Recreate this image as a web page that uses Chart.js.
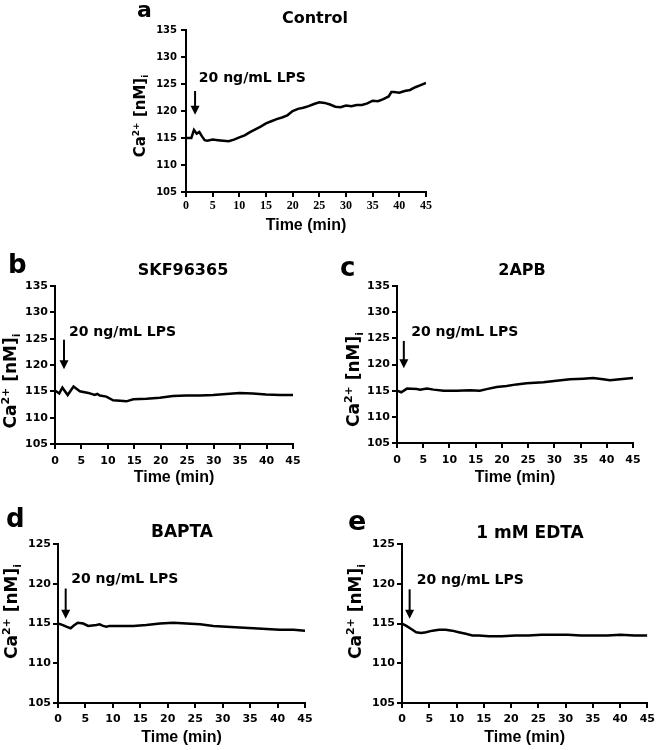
<!DOCTYPE html>
<html>
<head>
<meta charset="utf-8">
<script src="https://cdn.jsdelivr.net/npm/chart.js@4"></script>
<style>
  body { margin: 0; background: #fff; }
  #wrap { position: relative; width: 660px; height: 750px; overflow: hidden; }
  canvas { position: absolute; }
</style>
</head>
<body>
<div id="wrap">
  <canvas id="pa" width="360" height="250" style="left:100px;top:0px"></canvas>
  <canvas id="pb" width="330" height="250" style="left:0px;top:250px"></canvas>
  <canvas id="pc" width="330" height="250" style="left:330px;top:250px"></canvas>
  <canvas id="pd" width="330" height="250" style="left:0px;top:500px"></canvas>
  <canvas id="pe" width="330" height="250" style="left:330px;top:500px"></canvas>
</div>
<script>
// tick values
const xTicks = [0, 5, 10, 15, 20, 25, 30, 35, 40, 45];
const yTicksHigh = [105, 110, 115, 120, 125, 130, 135];
const yTicksLow = [105, 110, 115, 120, 125];

// a - Control
const controlTime = [0, 1, 1.5, 2, 2.5, 3, 3.5, 4, 5, 6, 7, 8, 9, 10, 11, 12, 13, 14, 15, 16, 17, 18, 19, 20, 21, 22, 23, 24, 25, 26, 27, 28, 29, 30, 31, 32, 33, 34, 35, 36, 37, 38, 38.5, 39, 40, 41, 42, 43, 44, 45];
const controlCa = [115.0, 115.0, 116.5, 115.8, 116.1, 115.3, 114.6, 114.5, 114.7, 114.6, 114.5, 114.4, 114.7, 115.1, 115.5, 116.1, 116.6, 117.1, 117.7, 118.1, 118.5, 118.8, 119.2, 120.0, 120.4, 120.6, 120.9, 121.3, 121.6, 121.5, 121.2, 120.8, 120.7, 121.0, 120.9, 121.1, 121.1, 121.4, 121.9, 121.8, 122.2, 122.7, 123.5, 123.5, 123.4, 123.7, 123.9, 124.4, 124.8, 125.2];

// b - SKF96365
const skfTime = [0, 0.2, 0.8, 1.4, 2.4, 3.5, 4.7, 6.3, 7.5, 8.0, 8.5, 9.7, 11.0, 12.3, 13.5, 14.8, 17.3, 19.8, 22.3, 24.8, 27.4, 29.9, 32.4, 34.9, 37.4, 39.9, 42.5, 45];
const skfCa = [115.0, 115.0, 114.6, 115.7, 114.3, 115.9, 115.0, 114.7, 114.3, 114.5, 114.2, 114.0, 113.3, 113.2, 113.1, 113.5, 113.6, 113.8, 114.1, 114.2, 114.2, 114.3, 114.5, 114.7, 114.6, 114.4, 114.3, 114.3];

// c - 2APB
const apbTime = [0, 0.8, 1.9, 3.8, 4.4, 5.7, 7.0, 8.9, 11.4, 13.9, 15.8, 17.1, 19.0, 20.9, 22.8, 24.7, 27.9, 30.4, 33.0, 35.5, 37.4, 39.3, 40.6, 42.5, 45];
const apbCa = [115.0, 114.7, 115.4, 115.3, 115.2, 115.4, 115.2, 115.0, 115.0, 115.1, 115.0, 115.3, 115.7, 115.9, 116.2, 116.4, 116.6, 116.9, 117.2, 117.3, 117.4, 117.2, 117.0, 117.2, 117.4];

// d - BAPTA
const baptaTime = [0, 0.9, 1.5, 2.3, 3.0, 3.6, 4.6, 5.5, 7.0, 7.6, 8.2, 8.8, 9.4, 10.3, 11.3, 13.7, 16.1, 18.6, 21.0, 23.4, 25.9, 28.3, 30.7, 33.1, 35.6, 38.0, 40.4, 42.9, 45];
const baptaCa = [115.0, 114.8, 114.6, 114.4, 114.8, 115.1, 115.0, 114.7, 114.8, 114.9, 114.7, 114.6, 114.7, 114.7, 114.7, 114.7, 114.8, 115.0, 115.1, 115.0, 114.9, 114.7, 114.6, 114.5, 114.4, 114.3, 114.2, 114.2, 114.1];

// e - 1 mM EDTA
const edtaTime = [0, 0.8, 1.7, 2.6, 3.5, 4.4, 5.6, 6.8, 8.0, 9.2, 10.4, 11.7, 12.9, 14.1, 15.9, 18.3, 20.8, 23.2, 25.6, 28.0, 30.4, 32.8, 35.3, 37.7, 40.1, 42.6, 45];
const edtaCa = [115.0, 114.7, 114.3, 113.9, 113.8, 113.9, 114.1, 114.2, 114.2, 114.1, 113.9, 113.7, 113.5, 113.5, 113.4, 113.4, 113.5, 113.5, 113.6, 113.6, 113.6, 113.5, 113.5, 113.5, 113.6, 113.5, 113.5];

const BOLD_DV = '"DejaVu Sans"';

const panels = [
  { id: 'pa', letter: 'a', title: 'Control', time: controlTime, ca: controlCa, yTicks: yTicksHigh,
    yWidth: 86, xHeight: 58, padTop: 30, padRight: 34, xTitlePad: 15,
    xTickFont: { family: 'Liberation Serif', size: 12, weight: 'bold' }, xTickPad: 2,
    yTickSize: 10, yTickPad: 4,
    letterPos: [37, 17, 22], titlePos: [215, 23, 16], yTitle: { dx: -41, dy: 5, size: 15 },
    arrow: { x: 1.7, top: 123.7, tip: 119.3 }, label: { x: 2.4, y: 125.4 } },
  { id: 'pb', letter: 'b', title: 'SKF96365', time: skfTime, ca: skfCa, yTicks: yTicksHigh,
    yWidth: 55, xHeight: 56, padTop: 36, padRight: 37, xTitlePad: 13,
    xTickFont: { family: BOLD_DV, size: 11, weight: 'bold' }, xTickPad: 6,
    yTickSize: 11, yTickPad: 2,
    letterPos: [8, 23, 26], titlePos: [183, 25, 16], yTitle: { dx: -39, dy: 16, size: 17 },
    arrow: { x: 1.7, top: 124.8, tip: 119.2 }, label: { x: 2.65, y: 125.5 } },
  { id: 'pc', letter: 'c', title: '2APB', time: apbTime, ca: apbCa, yTicks: yTicksHigh,
    yWidth: 67, xHeight: 57, padTop: 36, padRight: 27, xTitlePad: 13,
    xTickFont: { family: BOLD_DV, size: 11, weight: 'bold' }, xTickPad: 6,
    yTickSize: 11, yTickPad: 2,
    letterPos: [10, 26, 26], titlePos: [192, 25, 16], yTitle: { dx: -38, dy: 15, size: 17 },
    arrow: { x: 1.3, top: 124.5, tip: 119.3 }, label: { x: 2.7, y: 125.5 } },
  { id: 'pd', letter: 'd', title: 'BAPTA', time: baptaTime, ca: baptaCa, yTicks: yTicksLow,
    yWidth: 58, xHeight: 47, padTop: 44, padRight: 25, xTitlePad: 3,
    xTickFont: { family: BOLD_DV, size: 11, weight: 'bold' }, xTickPad: 5,
    yTickSize: 11, yTickPad: 2,
    letterPos: [6, 27, 26], titlePos: [182, 37, 17], yTitle: { dx: -41, dy: -12, size: 17 },
    arrow: { x: 1.4, top: 119.4, tip: 115.6 }, label: { x: 2.4, y: 120.1 } },
  { id: 'pe', letter: 'e', title: '1 mM EDTA', time: edtaTime, ca: edtaCa, yTicks: yTicksLow,
    yWidth: 72, xHeight: 47, padTop: 44, padRight: 10, xTitlePad: 3,
    xTickFont: { family: BOLD_DV, size: 11, weight: 'bold' }, xTickPad: 5,
    yTickSize: 11, yTickPad: 2,
    letterPos: [18, 30, 27], titlePos: [200, 38, 17], yTitle: { dx: -41, dy: -12, size: 17 },
    arrow: { x: 1.4, top: 119.3, tip: 115.6 }, label: { x: 2.7, y: 120.0 } }
];

// Ca2+ [nM]i with real super/subscripts, rotated
function drawCaTitle(ctx, x, cy, size) {
  const big = `bold ${size}px ${BOLD_DV}`;
  const small = `bold ${Math.round(size * 0.62)}px ${BOLD_DV}`;
  const parts = [['Ca', big, 0], ['2+', small, -0.42 * size], [' [nM]', big, 0], ['i', small, 0.22 * size]];
  ctx.save();
  ctx.translate(x, cy);
  ctx.rotate(-Math.PI / 2);
  let total = 0;
  parts.forEach(p => { ctx.font = p[1]; total += ctx.measureText(p[0]).width; });
  let pos = -total / 2;
  ctx.fillStyle = '#000';
  ctx.textBaseline = 'alphabetic';
  ctx.textAlign = 'left';
  parts.forEach(p => {
    ctx.font = p[1];
    ctx.fillText(p[0], pos, p[2]);
    pos += ctx.measureText(p[0]).width;
  });
  ctx.restore();
}

const decorPlugin = {
  id: 'decor',
  afterDatasetsDraw(chart) {
    const p = chart.config.options.plugins.decor.panel;
    const ctx = chart.ctx;
    const xs = chart.scales.x, ys = chart.scales.y;
    const area = chart.chartArea;
    ctx.save();
    ctx.fillStyle = '#000';
    ctx.strokeStyle = '#000';

    // panel letter
    ctx.font = `bold ${p.letterPos[2]}px ${BOLD_DV}`;
    ctx.textAlign = 'left';
    ctx.textBaseline = 'alphabetic';
    ctx.fillText(p.letter, p.letterPos[0], p.letterPos[1]);

    // panel title
    ctx.font = `bold ${p.titlePos[2]}px ${BOLD_DV}`;
    ctx.textAlign = 'center';
    ctx.fillText(p.title, p.titlePos[0], p.titlePos[1]);

    // y axis title
    drawCaTitle(ctx, area.left + p.yTitle.dx, (area.top + area.bottom) / 2 + p.yTitle.dy, p.yTitle.size);

    // LPS arrow
    const ax = xs.getPixelForValue(p.arrow.x);
    const y1 = ys.getPixelForValue(p.arrow.top);
    const y2 = ys.getPixelForValue(p.arrow.tip);
    ctx.lineWidth = 2;
    ctx.beginPath();
    ctx.moveTo(ax, y1);
    ctx.lineTo(ax, y2 - 8);
    ctx.stroke();
    ctx.beginPath();
    ctx.moveTo(ax - 4.5, y2 - 9);
    ctx.lineTo(ax + 4.5, y2 - 9);
    ctx.lineTo(ax, y2);
    ctx.closePath();
    ctx.fill();

    ctx.font = `bold 14px ${BOLD_DV}`;
    ctx.textAlign = 'left';
    ctx.fillText('20 ng/mL LPS', xs.getPixelForValue(p.label.x), ys.getPixelForValue(p.label.y));
    ctx.restore();
  }
};

panels.forEach(p => {
  const points = p.time.map((t, i) => ({ x: t, y: p.ca[i] }));
  const canvas = document.getElementById(p.id);
  new Chart(canvas, {
    type: 'line',
    data: {
      datasets: [{
        data: points,
        borderColor: '#000',
        borderWidth: 2.5,
        tension: 0,
        pointRadius: 0,
        fill: false
      }]
    },
    plugins: [decorPlugin],
    options: {
      responsive: false,
      animation: false,
      devicePixelRatio: 1,
      layout: { padding: { top: p.padTop, right: p.padRight, left: 0, bottom: 0 } },
      plugins: {
        legend: { display: false },
        tooltip: { enabled: false },
        decor: { panel: p }
      },
      scales: {
        x: {
          type: 'linear',
          min: 0,
          max: 45,
          afterBuildTicks: s => { s.ticks = xTicks.map(v => ({ value: v })); },
          afterFit: s => { s.height = p.xHeight; },
          ticks: { autoSkip: false, maxRotation: 0, color: '#000', font: p.xTickFont, padding: p.xTickPad },
          grid: { drawOnChartArea: false, drawTicks: true, tickLength: 5, color: '#000', lineWidth: 2 },
          border: { display: true, color: '#000', width: 2 },
          title: {
            display: true,
            text: 'Time (min)',
            color: '#000',
            font: { family: 'Liberation Sans', size: 16, weight: 'bold' },
            padding: { top: 0, bottom: p.xTitlePad }
          }
        },
        y: {
          min: p.yTicks[0],
          max: p.yTicks[p.yTicks.length - 1],
          afterBuildTicks: s => { s.ticks = p.yTicks.map(v => ({ value: v })); },
          afterFit: s => { s.width = p.yWidth; },
          ticks: { color: '#000', font: { family: BOLD_DV, size: p.yTickSize, weight: 'bold' }, padding: p.yTickPad },
          grid: { drawOnChartArea: false, drawTicks: true, tickLength: 5, color: '#000', lineWidth: 2 },
          border: { display: true, color: '#000', width: 2 }
        }
      }
    }
  });
});
</script>
</body>
</html>
